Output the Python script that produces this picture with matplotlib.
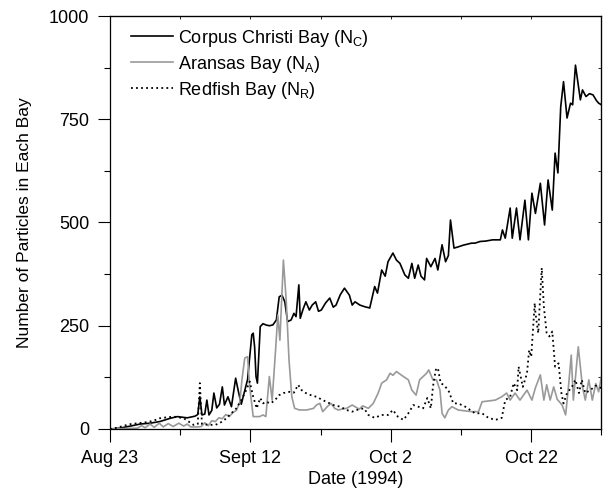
import numpy as np
import matplotlib
matplotlib.use('Agg')
import matplotlib.pyplot as plt

# days since Aug 23 1994
tick_days = [0, 20, 40, 60]
tick_labels = ['Aug 23', 'Sept 12', 'Oct 2', 'Oct 22']

corpus_day = [0, 1.4, 2.9, 4.3, 5.7, 7.1, 8.6, 9.6, 11, 12.1, 12.5, 12.8, 13.1, 13.5, 13.8, 14.1,
              14.5, 14.8, 15.2, 15.6, 16, 16.3, 16.8, 17.3, 17.9, 18.3, 18.7, 19.1, 19.6, 20.2, 20.4,
              20.6, 20.8, 21, 21.4, 21.8, 22.2, 22.7, 23.2, 23.7, 24.1, 24.5, 24.9, 25.3, 25.8, 26.2,
              26.5, 26.9, 27.1, 27.5, 27.9, 28.4, 28.8, 29.3, 29.7, 30.1, 30.7, 31.3, 31.8, 32.2, 32.8,
              33.4, 34.1, 34.5, 34.9, 35.6, 36.3, 37, 37.7, 38.1, 38.7, 39.2, 39.6, 40.3, 40.8, 41.3,
              42, 42.5, 43, 43.4, 43.9, 44.3, 44.8, 45.1, 45.7, 46.3, 46.7, 47.3, 47.8, 48.2, 48.5,
              49, 49.6, 50.3, 51, 51.5, 52, 52.7, 53.5, 54.5, 55.6, 55.9, 56.3, 57, 57.3, 57.9, 58.4,
              59.1, 59.6, 60.1, 60.6, 61.3, 61.9, 62.4, 63, 63.4, 63.8, 64.2, 64.6, 65.1, 65.6, 65.9,
              66.3, 66.7, 67, 67.3, 67.8, 68.3, 68.8, 69.3, 69.6, 70]
corpus_val = [0, 2, 7, 12, 14, 18, 26, 30, 27, 31, 35, 78, 34, 36, 70, 34,
              45, 87, 51, 60, 102, 58, 78, 54, 123, 90, 60, 87, 120, 228, 232,
              199, 127, 111, 248, 255, 252, 250, 252, 264, 320, 324, 308, 260, 264, 280,
              272, 349, 268, 290, 308, 288, 300, 308, 285, 288, 305, 317, 295, 300, 325,
              341, 324, 300, 308, 300, 296, 293, 345, 329, 385, 370, 405, 426, 409, 401,
              373, 365, 401, 365, 397, 370, 361, 413, 393, 413, 385, 446, 405, 420, 506,
              438, 441, 445, 448, 450, 450, 454, 455, 458, 458, 482, 462, 535, 462, 535, 458,
              554, 458, 571, 522, 595, 494, 603, 530, 668, 620, 780, 841, 753, 789, 785,
              881, 833, 797, 821, 805, 812, 809, 795, 789, 785]

aransas_day = [0, 2, 3.9, 4.5, 5, 5.7, 6.3, 7, 7.6, 8.3, 9, 9.8, 10.5, 11, 11.5, 12.5, 13, 13.5,
               14, 14.5, 15, 15.5, 16, 16.5, 17, 17.5, 18, 18.5, 18.8, 19.2, 19.6, 19.9, 20.4, 21.3,
               21.8, 22.2, 22.7, 23.1, 23.6, 23.9, 24.2, 24.7, 25.1, 25.5, 25.9, 26.3, 27, 28, 29,
               29.4, 29.9, 30.3, 31, 31.5, 32, 32.5, 33, 33.7, 34.5, 34.9, 35.5, 36, 36.8, 37.5, 38.2,
               38.7, 39.4, 39.9, 40.3, 40.8, 41.3, 41.8, 42.5, 43, 43.6, 44.1, 44.6, 45.1, 45.4, 46,
               46.5, 47, 47.3, 47.7, 48.2, 48.7, 49.6, 50.5, 51.5, 52.5, 53, 54, 54.9, 55.8, 56.5,
               57, 57.7, 58.4, 59.4, 60.1, 60.6, 61.3, 61.8, 62.2, 62.7, 63.2, 63.7, 64.4, 64.9,
               65.3, 65.7, 66, 66.7, 67.3, 67.7, 68.2, 68.7, 69.2, 69.6, 70]
aransas_val = [0, 1, 2, 8, 3, 12, 4, 14, 5, 13, 6, 14, 7, 12, 5, 5, 6, 15,
               8, 20, 18, 27, 25, 35, 30, 40, 45, 66, 120, 172, 175, 102, 30, 30,
               34, 30, 127, 70, 195, 276, 215, 409, 312, 167, 78, 50, 46, 46, 50,
               58, 62, 42, 55, 62, 50, 46, 48, 50, 58, 54, 48, 56, 50, 62, 87,
               111, 119, 135, 130, 139, 133, 127, 119, 94, 82, 119, 127, 135, 143, 119,
               119, 94, 38, 27, 46, 54, 46, 44, 42, 42, 66, 68, 70, 78, 87,
               70, 87, 70, 94, 70, 100, 131, 70, 107, 70, 102, 72, 58, 34,
               102, 179, 70, 199, 102, 70, 119, 70, 110, 90, 127]

redfish_day = [0, 1, 2, 3, 4, 5, 5.7, 6.5, 7.1, 8, 9.1, 10.5, 11.2, 11.9, 12.5, 12.8, 13.1, 14,
               15, 15.6, 16.3, 17.3, 18, 18.7, 19.4, 19.9, 20.4, 20.9, 21.4, 21.8, 22.2, 22.9, 23.5,
               24.1, 24.7, 25.6, 26.2, 26.8, 27.3, 27.9, 28.6, 29.4, 30.3, 31.3, 31.8, 32.8, 33.7,
               34.5, 35.5, 36.2, 36.8, 37.7, 38.7, 39.6, 40.3, 41, 41.8, 42.5, 43.2, 43.9, 44.6,
               45.2, 45.7, 46, 46.4, 46.7, 47.1, 47.5, 48.2, 48.9, 49.6, 50.6, 51.3, 52, 53, 53.9,
               54.9, 55.8, 56.3, 57, 57.5, 58, 58.2, 58.8, 59.4, 59.7, 60, 60.5, 60.6, 61, 61.3,
               61.5, 61.8, 62.2, 62.6, 63, 63.4, 63.9, 64.3, 64.6, 65.1, 65.8, 66.3, 66.8, 67.2,
               67.7, 68.4, 69.2, 70]
redfish_val = [0, 3, 8, 12, 14, 16, 18, 22, 26, 28, 30, 26, 18, 10, 12, 111, 12, 10,
               10, 14, 22, 38, 50, 70, 94, 115, 78, 50, 75, 62, 66, 62, 70,
               82, 87, 90, 88, 107, 94, 87, 82, 78, 70, 62, 58, 54, 46,
               42, 48, 50, 34, 27, 34, 34, 46, 30, 22, 38, 58, 54, 50,
               75, 50, 102, 143, 148, 111, 107, 94, 62, 62, 54, 46, 38, 38, 27,
               22, 27, 70, 78, 111, 94, 151, 102, 135, 191, 175, 305, 281, 232, 329,
               390, 296, 232, 224, 236, 151, 159, 87, 62, 87, 102, 119, 87, 119,
               87, 94, 105, 99]

plt.rcParams['font.family'] = ['Liberation Sans', 'DejaVu Sans']
plt.rcParams['mathtext.default'] = 'regular'

fig = plt.figure(figsize=(6.03, 4.94), dpi=100)
ax = fig.add_axes([0.1824, 0.1316, 0.815, 0.836])

ax.plot(corpus_day, corpus_val, color='black', lw=1.2, label='Corpus Christi Bay (N$_C$)')
ax.plot(aransas_day, aransas_val, color='#999999', lw=1.2, label='Aransas Bay (N$_A$)')
ax.plot(redfish_day, redfish_val, color='black', lw=1.3, linestyle=(0, (1, 1.8)),
        label='Redfish Bay (N$_R$)')

ax.set_xlim(0, 70)
ax.set_ylim(0, 1000)
ax.set_xticks(tick_days)
ax.set_xticklabels(tick_labels)
ax.set_xticks([10, 30, 50, 70], minor=True)
ax.set_yticks([0, 250, 500, 750, 1000])
ax.set_yticks([125, 375, 625, 875], minor=True)
ax.tick_params(which='major', direction='out', length=9, width=0.8, labelsize=13, pad=6)
ax.tick_params(which='minor', direction='out', length=4.5, width=0.8)
for s in ax.spines.values():
    s.set_linewidth(0.9)

# inward ticks on top and right
top = ax.secondary_xaxis('top')
top.set_xticks(tick_days)
top.set_xticks([10, 30, 50, 70], minor=True)
top.tick_params(which='both', direction='in', length=2.5, width=0.6, labeltop=False)
right = ax.secondary_yaxis('right')
right.set_yticks([0, 250, 500, 750, 1000])
right.set_yticks([125, 375, 625, 875], minor=True)
right.tick_params(which='both', direction='in', length=2.5, width=0.6, labelright=False)

ax.set_xlabel('Date (1994)', fontsize=13, labelpad=3)
ax.set_ylabel('Number of Particles in Each Bay', fontsize=12.5, labelpad=12)

ax.legend(loc='upper left', bbox_to_anchor=(0.043, 0.972), frameon=False, fontsize=13,
          borderpad=0, borderaxespad=0, handlelength=2.3, handletextpad=0.3, labelspacing=0.28)

fig.savefig('out.png', dpi=100)
